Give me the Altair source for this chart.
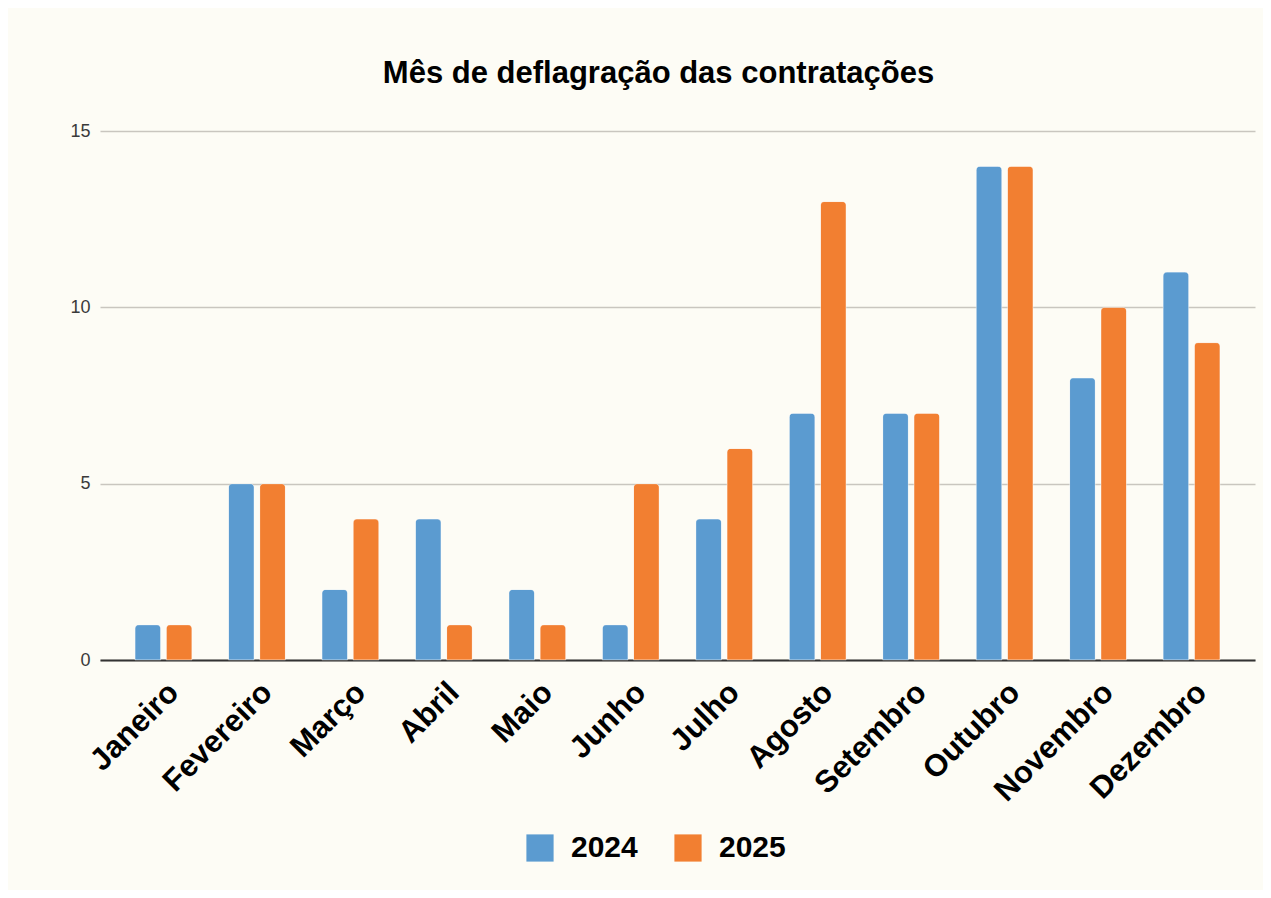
import altair as alt
import pandas as pd

months = ["Janeiro", "Fevereiro", "Março", "Abril", "Maio", "Junho",
          "Julho", "Agosto", "Setembro", "Outubro", "Novembro", "Dezembro"]
v2024 = [1, 5, 2, 4, 2, 1, 4, 7, 7, 14, 8, 11]
v2025 = [1, 5, 4, 1, 1, 5, 6, 13, 7, 14, 10, 9]
years = ["2024", "2025"]
colors = ["#5b9bd0", "#f27f31"]

rows = []
for m, a, b in zip(months, v2024, v2025):
    rows.append({"mes": m, "ano": years[0], "valor": a})
    rows.append({"mes": m, "ano": years[1], "valor": b})
df = pd.DataFrame(rows)

chart = alt.Chart(df).mark_bar(
    cornerRadiusTopLeft=4, cornerRadiusTopRight=4,
    stroke="#ffffff", strokeWidth=1, strokeOpacity=0.35
).encode(
    x=alt.X("mes:N", sort=months, title=None,
            scale=alt.Scale(paddingInner=0.39, paddingOuter=0.374),
            axis=alt.Axis(labelAngle=-45, labelFontSize=31, labelFontWeight="bold",
                          labelColor="#000000", labelFont="Liberation Sans",
                          domainColor="#333333", domainWidth=2, ticks=False,
                          labelPadding=17)),
    xOffset=alt.XOffset("ano:N", scale=alt.Scale(paddingInner=0.175, paddingOuter=0)),
    y=alt.Y("valor:Q", title=None,
            scale=alt.Scale(domain=[0, 15]),
            axis=alt.Axis(values=[0, 5, 10, 15], labelFontSize=18, labelColor="#3a3a3a",
                          labelFont="Liberation Sans", domain=False, ticks=False,
                          labelPadding=10, gridColor="#c9c6bf", gridWidth=1.5)),
    color=alt.Color("ano:N", scale=alt.Scale(domain=years, range=colors),
                    legend=alt.Legend(title=None, orient="none", direction="horizontal",
                                      legendX=425, legendY=702,
                                      symbolType="square", symbolSize=740,
                                      symbolStrokeWidth=0, symbolOpacity=1,
                                      labelFontSize=30, labelFontWeight="bold",
                                      labelColor="#000000", labelFont="Liberation Sans",
                                      labelOffset=16, columnPadding=35, padding=0)),
).properties(
    width=1155, height=529,
    title=alt.TitleParams("Mês de deflagração das contratações", fontSize=31,
                          fontWeight="bold", font="Liberation Sans", color="#000000",
                          anchor="middle", offset=32, dx=-19),
    background="#fdfcf5",
    padding={"left": 92, "top": 123, "right": 8, "bottom": 230},
    autosize=alt.AutoSizeParams(type="none"),
).configure_view(stroke=None)

chart.save("out.html", embed_options={"renderer": "svg", "actions": False})
